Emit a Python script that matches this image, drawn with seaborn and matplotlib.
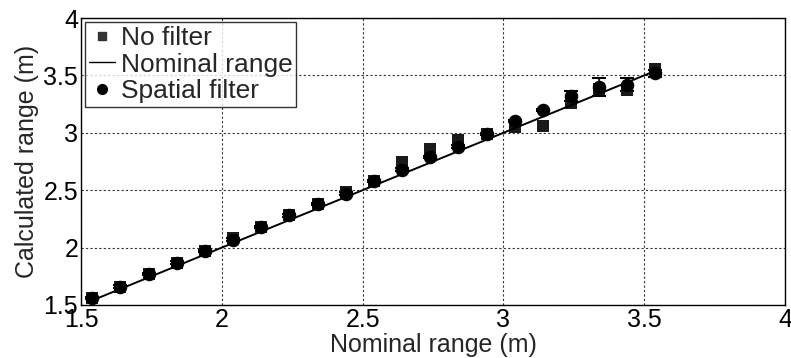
import matplotlib
matplotlib.use("Agg")
import matplotlib.pyplot as plt
import seaborn as sns
import pandas as pd
from matplotlib.lines import Line2D

nominal = [1.54, 1.64, 1.74, 1.84, 1.94, 2.04, 2.14, 2.24, 2.34, 2.44, 2.54,
           2.64, 2.74, 2.84, 2.94, 3.04, 3.14, 3.24, 3.34, 3.44, 3.54]
no_filter = [1.56, 1.66, 1.77, 1.87, 1.97, 2.08, 2.18, 2.28, 2.38, 2.48, 2.58,
             2.75, 2.86, 2.94, 2.99, 3.05, 3.06, 3.26, 3.38, 3.37, 3.56]
spatial = [1.56, 1.66, 1.77, 1.87, 1.97, 2.07, 2.18, 2.28, 2.38, 2.47, 2.58,
           2.68, 2.79, 2.88, 2.99, 3.10, 3.20, 3.32, 3.40, 3.42, 3.52]
spatial_err = [0.01, 0.01, 0.01, 0.01, 0.01, 0.01, 0.01, 0.01, 0.01, 0.01, 0.01,
               0.01, 0.01, 0.01, 0.01, 0.01, 0.01, 0.04, 0.08, 0.06, 0.03]
x_ticks = [1.5, 2, 2.5, 3, 3.5, 4]
y_ticks = [1.5, 2, 2.5, 3, 3.5, 4]
x_ticklabels = ["1.5", "2", "2.5", "3", "3.5", "4"]
y_ticklabels = ["1.5", "2", "2.5", "3", "3.5", "4"]

df = pd.DataFrame({"nominal": nominal, "no_filter": no_filter,
                   "spatial": spatial, "err": spatial_err})

sns.set_theme(style="white")
plt.rcParams["font.family"] = ["Liberation Sans", "DejaVu Sans"]

fig = plt.figure(figsize=(7.91, 3.58), dpi=100)
ax = fig.add_axes([81/791, 1-305/358, (785-81)/791, (305-18)/358])

ax.set_xlim(1.5, 4)
ax.set_ylim(1.5, 4)

ax.errorbar(df["nominal"], df["spatial"], yerr=df["err"], fmt="none",
            ecolor="black", elinewidth=1.2, capsize=5, capthick=1.5, zorder=3)
sns.scatterplot(data=df, x="nominal", y="no_filter", marker="s", s=85,
                color="#1a1a1a", edgecolor="#1a1a1a", linewidth=0, ax=ax, zorder=4)
sns.lineplot(data=df, x="nominal", y="nominal", color="black", linewidth=1.4,
             ax=ax, zorder=5)
sns.scatterplot(data=df, x="nominal", y="spatial", marker="o", s=95,
                color="black", edgecolor="black", linewidth=0, ax=ax, zorder=6)

ax.set_xticks(x_ticks)
ax.set_xticklabels(x_ticklabels)
ax.set_yticks(y_ticks)
ax.set_yticklabels(y_ticklabels)
ax.tick_params(axis="both", labelsize=18, length=0, pad=2, colors="black")
ax.set_xlabel("Nominal range (m)", fontsize=18, labelpad=1)
ax.set_ylabel("Calculated range (m)", fontsize=18, labelpad=3)

ax.grid(True, color="black", linestyle=(0, (2, 2)), linewidth=0.8, alpha=0.8)
for s in ax.spines.values():
    s.set_color("black")
    s.set_linewidth(1.0)

handles = [
    Line2D([], [], marker="s", linestyle="none", color="#333333", markersize=6),
    Line2D([], [], color="black", linewidth=1.0),
    Line2D([], [], marker="o", linestyle="none", color="black", markersize=7),
]
leg = ax.legend(handles, ["No filter", "Nominal range", "Spatial filter"],
                loc="upper left", fontsize=19, frameon=True, fancybox=False,
                borderaxespad=0.15, handlelength=1.0, handletextpad=0.2,
                borderpad=0.15, labelspacing=0.1)
leg.get_frame().set_edgecolor("black")
leg.get_frame().set_linewidth(1.0)

fig.savefig("out.png", dpi=100)
